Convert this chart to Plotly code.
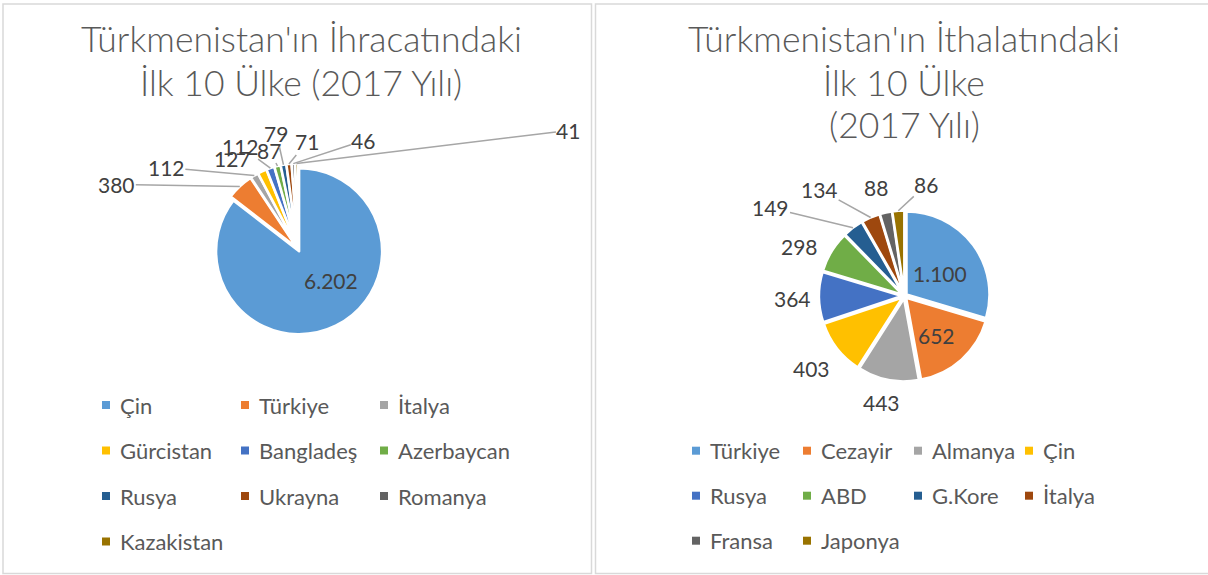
import math
import plotly.graph_objects as go

W, H = 1208, 575

# ---------------- data ----------------
exp_countries = ["Çin", "Türkiye", "İtalya", "Gürcistan", "Bangladeş",
                 "Azerbaycan", "Rusya", "Ukrayna", "Romanya", "Kazakistan"]
exp_values = [6202, 380, 112, 127, 112, 87, 79, 71, 46, 41]

imp_countries = ["Türkiye", "Cezayir", "Almanya", "Çin", "Rusya",
                 "ABD", "G.Kore", "İtalya", "Fransa", "Japonya"]
imp_values = [1100, 652, 443, 403, 364, 298, 149, 134, 88, 86]

exp_title = ["Türkmenistan'ın İhracatındaki", "İlk 10 Ülke (2017 Yılı)"]
imp_title = ["Türkmenistan'ın İthalatındaki", "İlk 10 Ülke", "(2017 Yılı)"]

colors = ["#5B9BD5", "#ED7D31", "#A5A5A5", "#FFC000", "#4472C4",
          "#70AD47", "#255E91", "#9E480E", "#636363", "#997300"]

# ---------------- layout helpers ----------------
FONT = "Lato"
TXT = "#595959"
LBL = "#404040"
LEAD = "#A6A6A6"


def px(x):
    return x / W


def py(y):
    return 1 - y / H


def fmt(v):
    return f"{v:,}".replace(",", ".")


# label placement (mode, dx, dy): 'in' = offset from pie centre,
# 'out' = offset from slice edge, 'lead' = offset from slice edge with leader line
exp_label_place = [("in", 33, 31), ("lead", -123, -2), ("lead", -88, -8),
                   ("out", -30, -13), ("lead", -30, -22), ("lead", -8, -16),
                   ("lead", -7, -31), ("lead", 18, -22), ("lead", 70, -23),
                   ("lead", 272, -33)]
imp_label_place = [("in", 35, -23), ("in", 32, 39), ("out", -6, 23),
                   ("out", -26, 20), ("out", -27, 1), ("out", -32, -5),
                   ("lead", -82, -20), ("lead", -51, -28), ("out", -10, -25),
                   ("lead", 28, -26)]

fig = go.Figure()
annotations = []
shapes = []


def add_pie(labels, values, cx, cy, r, pull, place):
    side = 2 * r * (1 + pull)
    fig.add_trace(go.Pie(
        labels=labels, values=values, sort=False, direction="clockwise",
        rotation=0, pull=pull, textinfo="none", hoverinfo="label+value",
        showlegend=False,
        marker=dict(colors=colors, line=dict(color="white", width=2.5)),
        domain=dict(x=[px(cx - side / 2), px(cx + side / 2)],
                    y=[py(cy + side / 2), py(cy - side / 2)]),
    ))
    total = sum(values)
    cum = 0
    ra = r * (1 + pull)
    lab_font = dict(family=FONT, size=21, color=LBL)
    for v, (mode, dx, dy) in zip(values, place):
        mid = (cum + v / 2) / total * 2 * math.pi
        cum += v
        if mode == "in":
            annotations.append(dict(
                x=px(cx), y=py(cy), xref="paper", yref="paper",
                xanchor="center", yanchor="middle",
                text=fmt(v), showarrow=False, xshift=dx, yshift=-dy,
                font=lab_font))
            continue
        axp = cx + ra * math.sin(mid)
        ayp = cy - ra * math.cos(mid)
        if mode == "out":
            annotations.append(dict(
                x=px(axp), y=py(ayp), xref="paper", yref="paper",
                xanchor="center", yanchor="middle",
                text=fmt(v), showarrow=False, xshift=dx, yshift=-dy,
                font=lab_font))
        else:
            annotations.append(dict(
                x=px(axp), y=py(ayp), xref="paper", yref="paper",
                xanchor="center", yanchor="middle",
                text=fmt(v), showarrow=True, ax=dx, ay=dy,
                arrowhead=0, arrowwidth=1.5, arrowcolor=LEAD,
                standoff=0, startstandoff=0, borderpad=0,
                font=lab_font))


def add_title(lines, cx, y0, step):
    for i, t in enumerate(lines):
        annotations.append(dict(
            x=px(cx), y=py(y0 + i * step), xref="paper", yref="paper",
            text=t, showarrow=False, xanchor="center", yanchor="middle",
            font=dict(family=FONT, size=35.5, color=TXT, weight=300)))


def add_legend(labels, x0, y0, dx, dy, ncol):
    for i, lab in enumerate(labels):
        c, rw = i % ncol, i // ncol
        mx = x0 + c * dx
        my = y0 + rw * dy
        shapes.append(dict(type="rect", xref="paper", yref="paper",
                           x0=px(mx - 4), x1=px(mx + 4),
                           y0=py(my + 4), y1=py(my - 4),
                           fillcolor=colors[i], line=dict(width=0)))
        annotations.append(dict(
            x=px(mx + 12), y=py(my), xref="paper", yref="paper",
            text=lab, showarrow=False, xanchor="left", yanchor="middle",
            font=dict(family=FONT, size=22, color=TXT)))


add_pie(exp_countries, exp_values, 298, 249, 83, 0.03, exp_label_place)
add_pie(imp_countries, imp_values, 904.5, 296, 83, 0.03, imp_label_place)

add_title(exp_title, 301, 39, 43)
add_title(imp_title, 904, 39, 43)

add_legend(exp_countries, 106, 405, 139, 45.5, 3)
add_legend(imp_countries, 696, 450.7, 111, 45, 4)

# panel frames
for (x0, x1) in [(3, 591.5), (595.5, 1212)]:
    shapes.append(dict(type="rect", xref="paper", yref="paper",
                       x0=px(x0), x1=px(x1), y0=py(573.5), y1=py(4),
                       line=dict(color="#D9D9D9", width=1.5),
                       fillcolor="rgba(0,0,0,0)", layer="below"))

fig.update_layout(
    width=W, height=H, margin=dict(l=0, r=0, t=0, b=0),
    paper_bgcolor="white", plot_bgcolor="white",
    annotations=annotations, shapes=shapes, showlegend=False,
)

fig.write_html("out.html",
               config={"displayModeBar": False},
               post_script="document.body.style.margin='0px';")
